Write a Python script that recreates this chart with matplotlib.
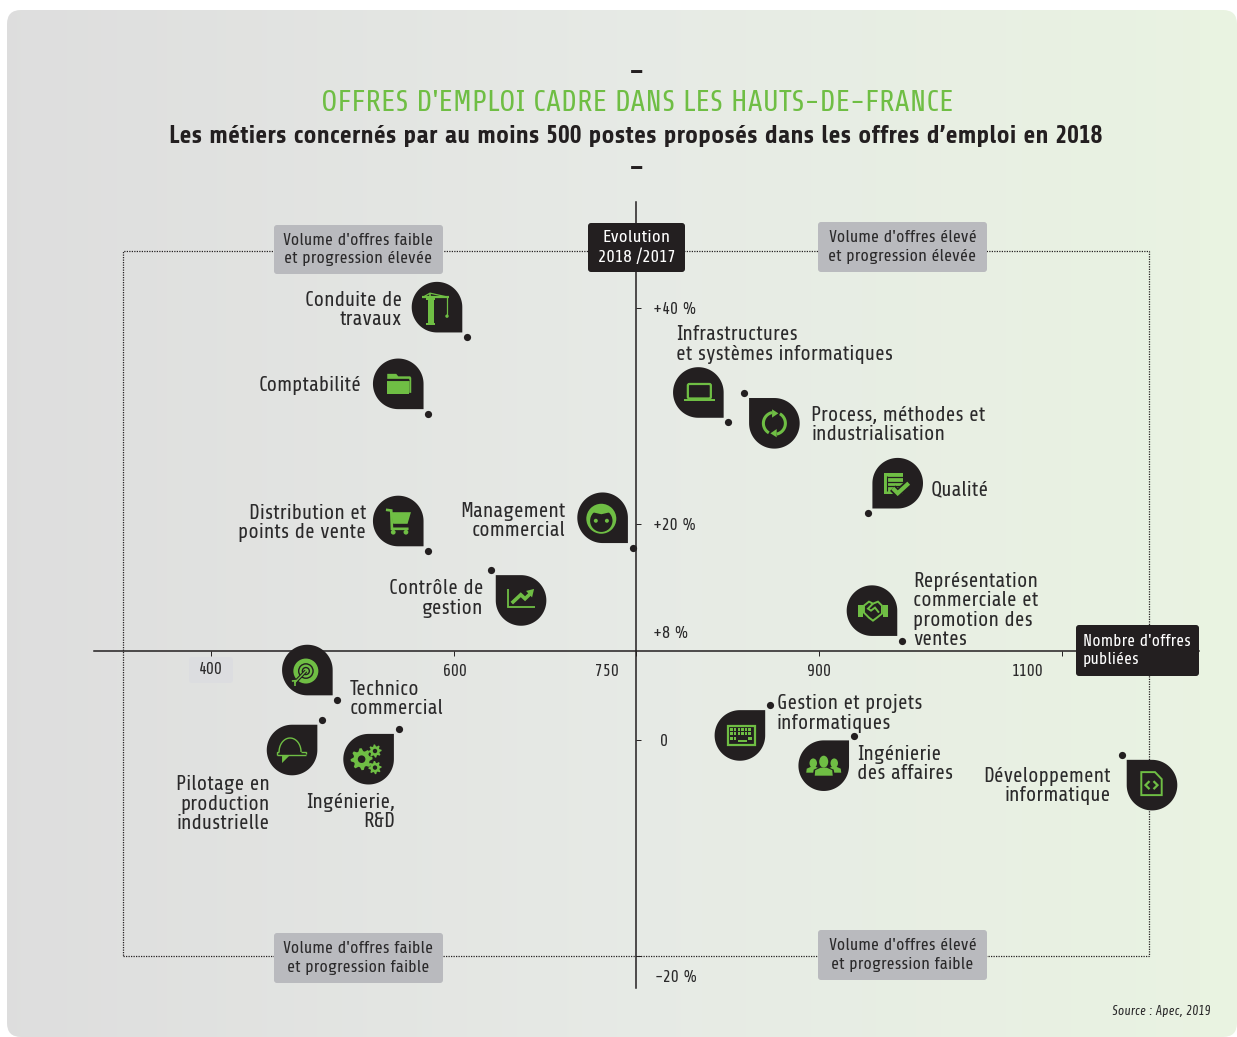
import numpy as np
import matplotlib
matplotlib.use('Agg')
import matplotlib.pyplot as plt
from matplotlib.patches import Polygon, Circle, Rectangle, Ellipse, FancyBboxPatch
from matplotlib.transforms import Affine2D, ScaledTranslation

plt.rcParams['font.family'] = ['Share', 'Liberation Sans', 'DejaVu Sans']

# data
metiers = ['Conduite de\ntravaux', 'Comptabilité', 'Infrastructures\net systèmes informatiques',
           'Process, méthodes et\nindustrialisation', 'Qualité', 'Distribution et\npoints de vente',
           'Management\ncommercial', 'Contrôle de\ngestion',
           'Représentation\ncommerciale et\npromotion des\nventes', 'Technico\ncommercial',
           'Pilotage en\nproduction\nindustrielle', 'Ingénierie,\nR&D', 'Gestion et projets\ninformatiques',
           'Ingénierie\ndes affaires', 'Développement\ninformatique']
offres = [610.7, 578.8, 825.8, 839, 940.5, 578.8, 747, 630.5, 968.7, 504, 491.4, 554.4, 860, 929, 1149.8]
evolution = [37.3, 30.2, 29.4, 32.1, 21.0, 17.5, 17.8, 15.7, 9.2, 3.7, 1.85, 1.0, 3.2, 0.4, -1.4]

x_ticks = [400, 600, 750, 900, 1100]
y_ticks = [40, 20, 0, -20]
y_tick_labels = ['+40 %', '+20 %', '0', '-20 %']

# where the drop sits compared to its point, label offset in px, label side
corners = ['br', 'br', 'br', 'tl', 'bl', 'br', 'br', 'tl', 'br', 'br', 'tr', 'tr', 'tr', 'tr', 'tl']
label_off = [(-65, 27), (-67, 28), (-52, 78), (67, -32), (63, 23), (-62, 28), (-67, 27), (-8, -28),
             (11, 30), (12.5, 1), (-52, -84), (-3.6, -83), (7, -8), (3, -28), (-11, -31)]
label_ha = ['right', 'right', 'left', 'left', 'left', 'right', 'right', 'right',
            'left', 'left', 'right', 'right', 'left', 'left', 'right']

W, H = 1237, 1037
DARK = '#231f20'
GREEN = '#6fbe44'
GREY = '#b9babe'
TXT = '#2b2a2b'
FS = 14.9

fig = plt.figure(figsize=(W / 100, H / 100), dpi=100, facecolor='white')

# background card with the grey to green gradient
bg = fig.add_axes([0, 0, 1, 1], zorder=0)
bg.axis('off')
stops = np.array([[0.87, 0.87, 0.87], [0.905, 0.918, 0.90], [0.915, 0.955, 0.885]])
grad = np.array([[np.interp(t, [0, 0.5, 1], stops[:, c]) for c in range(3)] for t in np.linspace(0, 1, 256)])
im = bg.imshow(grad[np.newaxis, :, :], extent=(7, W, H, 10), aspect='auto', interpolation='bilinear')
bg.set_xlim(0, W)
bg.set_ylim(H, 0)
card = FancyBboxPatch((21, 24), W - 35, H - 38, boxstyle='round,pad=14,rounding_size=14',
                      transform=bg.transData, fc='none', ec='none')
bg.add_patch(card)
im.set_clip_path(card)

# main axes fill the figure so data units map straight to the picture
ax = fig.add_axes([0, 0, 1, 1], zorder=1)
ax.patch.set_visible(False)
ax.set_xlim(400 - 211 / 1.215, 400 + (W - 211) / 1.215)
ax.set_ylim((740 - H) / 10.8, 740 / 10.8)
px = Affine2D().scale(1, -1).translate(0, H)

for s in ['top', 'right']:
    ax.spines[s].set_visible(False)
ax.spines['left'].set_position(('data', 750))
ax.spines['bottom'].set_position(('data', 8.2))
ax.spines['left'].set_bounds((740 - 988) / 10.8, (740 - 202) / 10.8)
ax.spines['bottom'].set_bounds(400 + (94 - 211) / 1.215, 400 + (1199 - 211) / 1.215)
ax.spines['left'].set_linewidth(1.1)
ax.spines['bottom'].set_linewidth(1.1)
ax.spines['left'].set_color(DARK)
ax.spines['bottom'].set_color(DARK)
ax.set_xticks(x_ticks)
ax.set_yticks(y_ticks)
ax.set_xticklabels([])
ax.set_yticklabels([])
ax.tick_params(axis='x', direction='out', length=3.6, width=0.7, color=DARK)
ax.tick_params(axis='y', direction='in', length=3.6, width=0.7, color=DARK)

# dotted frame of the four quadrants
ax.add_patch(Rectangle((400 + (123 - 211) / 1.215, -20), (1149 - 123) / 1.215, 65.3, fill=False,
                       ls=(0, (1, 1)), lw=0.9, ec=DARK, zorder=1))


def box(x0, y0, x1, y1, color, text, tc, ha='center', tx=None, fs=12.45):
    ax.add_patch(FancyBboxPatch((x0 + 3, y0 + 3), x1 - x0 - 6, y1 - y0 - 6, boxstyle='round,pad=3,rounding_size=3',
                                transform=px, fc=color, ec='none', zorder=3))
    if tx is None:
        tx = (x0 + x1) / 2
    ax.text(tx, (y0 + y1) / 2, text, transform=px, ha=ha, va='center', color=tc, fontsize=fs,
            linespacing=1.3, zorder=4)


box(274, 225, 443, 274, GREY, "Volume d'offres faible\net progression élevée", TXT)
box(818, 222, 987, 272, GREY, "Volume d'offres élevé\net progression élevée", TXT)
box(274, 933, 443, 983, GREY, "Volume d'offres faible\net progression faible", TXT)
box(818, 930, 987, 980, GREY, "Volume d'offres élevé\net progression faible", TXT)
box(588, 223, 685, 272, DARK, 'Evolution\n2018 /2017', 'white', fs=13)
box(1076, 625, 1199, 676, DARK, "Nombre d'offres\npubliées", 'white', ha='left', tx=1083, fs=12.2)
box(189, 657, 233, 683, '#dcdde0', '400', TXT, fs=12.2)

# tick labels sit beside the ticks, not under them
for lab, lx in zip(x_ticks[1:], [455, 607, 819, 1028]):
    ax.text(lx, 671, str(lab), transform=px, ha='center', va='center', fontsize=12.2, color=TXT)
for lab, lx, ly in zip(y_tick_labels, [653, 653, 660, 655], [309, 525, 741, 977]):
    ax.text(lx, ly, lab, transform=px, ha='left', va='center', fontsize=12.2, color=TXT)
ax.text(653, 633, '+8 %', transform=px, ha='left', va='center', fontsize=12.2, color=TXT)

# titles
ax.text(637, 73, '–', transform=px, ha='center', va='center', fontsize=20, fontweight='bold', color=DARK)
ax.text(637, 103, "OFFRES D'EMPLOI CADRE DANS LES HAUTS-DE-FRANCE", transform=px, ha='center', va='center',
        fontsize=21.8, color=GREEN)
ax.text(636, 136, "Les métiers concernés par au moins 500 postes proposés dans les offres d’emploi en 2018",
        transform=px, ha='center', va='center', fontsize=17.9, fontweight='bold', color=DARK)
ax.text(637, 169, '–', transform=px, ha='center', va='center', fontsize=20, fontweight='bold', color=DARK)
ax.text(1210, 1011, 'Source : Apec, 2019', transform=px, ha='right', va='center', fontsize=9.4,
        style='italic', color=TXT)


def drop(t, corner):
    r = 25.3
    th = np.radians(np.linspace(0, 270, 80))
    pts = np.column_stack([r * np.cos(th), r * np.sin(th)])
    pts = np.vstack([pts, [r, -r]])
    ang = {'br': 0, 'tr': 90, 'tl': 180, 'bl': 270}[corner]
    rot = Affine2D().rotate_deg(ang)
    ax.add_patch(Polygon(rot.transform(pts), closed=True, fc=DARK, ec='none', transform=t, zorder=5))


# small helpers for the icons, in px around the centre of the drop
def poly(t, pts, fc=GREEN, z=6, ec='none', lw=0, closed=True):
    ax.add_patch(Polygon(pts, closed=closed, fc=fc, ec=ec, lw=lw, transform=t, zorder=z))


def line(t, xs, ys, lw=1.5, c=GREEN, z=6):
    ax.plot(xs, ys, color=c, lw=lw, transform=t, zorder=z, solid_capstyle='butt', solid_joinstyle='miter')


def rect(t, x, y, w, h, fc=GREEN, z=6):
    ax.add_patch(Rectangle((x, y), w, h, fc=fc, ec='none', transform=t, zorder=z))


def circ(t, x, y, r, fc=GREEN, z=6):
    ax.add_patch(Circle((x, y), r, fc=fc, ec='none', transform=t, zorder=z))


def crane(t):
    rect(t, -9.5, -16.5, 6, 24)
    rect(t, -11, -18, 9, 2)
    rect(t, -11, 7, 9, 2)
    line(t, [-15, 12], [10, 10], 1.6)
    line(t, [-14, -7, 11], [10, 14, 10], 0.9)
    line(t, [-7, -7], [14, 9], 1.2)
    line(t, [10, 10], [10, -8], 0.9)
    circ(t, 10, -9, 1.7)


def folder(t):
    poly(t, [(-11, 5), (-11, 10), (-2, 10), (0, 7.5), (12, 7.5), (13, 6), (13, -9), (11, -9), (11, 5)])
    rect(t, -11, -10.5, 21.5, 13.5)
    line(t, [-11, 11], [3.6, 3.6], 0.8, DARK, 7)


def laptop(t):
    ax.add_patch(FancyBboxPatch((-10.5, -6), 23, 14.5, boxstyle='round,pad=0,rounding_size=1.5', fc='none',
                                ec=GREEN, lw=1.6, transform=t, zorder=6))
    rect(t, -14, -9, 31, 2)


def refresh(t):
    r = 11
    a = np.radians(np.linspace(102, 240, 30))
    line(t, r * np.cos(a), r * np.sin(a), 2.2)
    poly(t, [(-2.3, 14), (4, 10), (-2.3, 5.7)])
    line(t, -r * np.cos(a), -r * np.sin(a), 2.2)
    poly(t, [(2.3, -14), (-4, -10), (2.3, -5.7)])


def qualite(t):
    rect(t, -13.7, -11, 18.7, 21)
    for yy in [6, 1.5, -3]:
        line(t, [-10.5, 5], [yy, yy], 0.9, DARK, 7)
    line(t, [-10.5, -10.5], [7, -8], 0.8, DARK, 7)
    line(t, [-5, 0, 11], [-5, -10, 0], 5.5, DARK, 7)
    line(t, [-5, 0, 11], [-5, -10, 0], 3, GREEN, 8)


def cart(t):
    line(t, [-12.3, -7, -6.3, 10.3], [11.2, 10.5, -7.8, -7.8], 1.9)
    poly(t, [(-7.3, 8.8), (12.7, 8.8), (9.3, -2.8), (-5, -2.8)])
    circ(t, -5, -11.2, 2.4)
    circ(t, 7.7, -11.2, 2.4)


def face(t):
    circ(t, -1.3, -1, 15)
    circ(t, -1.3, -3, 11.2, DARK, 7)
    poly(t, [(-12, 6), (-1.3, 3.5), (9.5, 6), (0, 13)], z=8)
    circ(t, -6.8, -3, 2, z=8)
    circ(t, 4.3, -3, 2, z=8)


def courbe(t):
    line(t, [-13.3, -13.3, 14], [11.7, -6.3, -6.3], 1.3)
    line(t, [-9.3, -0.3, 4, 9], [-2.7, 5.7, 1.7, 6.5], 2.6)
    poly(t, [(5, 9.5), (13, 11.5), (11, 3)])


def poignee(t):
    rect(t, -14, -6, 5, 12)
    rect(t, 11, -6, 5, 12)
    xs = [-8, -3, 1, 6, 10, 10, 5, 1, -3, -8, -8]
    ys = [5, 9, 7, 9, 5, -3, -7, -10, -7, -2, 5]
    ax.add_patch(Polygon(np.column_stack([xs, ys]), closed=True, fc='none', ec=GREEN, lw=1.4, transform=t, zorder=6))
    line(t, [1, -4, -1, 3, 7], [7, 2, 0, 3, -2], 1.4)


def cible(t):
    circ(t, -1.5, -1, 12.5)
    ax.add_patch(Circle((-1.5, -1), 7.2, fc='none', ec=DARK, lw=1, transform=t, zorder=7))
    ax.add_patch(Circle((-1.5, -1), 3.5, fc='none', ec=DARK, lw=1, transform=t, zorder=7))
    line(t, [-1.5, -13], [-1, -13], 2.6, DARK, 7)
    line(t, [-1.5, -13], [-1, -13], 1, GREEN, 8)
    line(t, [-15.5, -10.5], [-11, -10.5], 1.2, GREEN, 8)
    line(t, [-12, -12], [-9.5, -15.5], 1.2, GREEN, 8)


def casque(t):
    th = np.radians(np.linspace(0, 180, 40))
    line(t, -2 + 11 * np.cos(th), -2 + 14 * np.sin(th), 1)
    line(t, [9, 14, 14], [-2, -2, -4], 1)
    line(t, [-15.5, 14], [-5, -5], 1)
    line(t, [-15.5, -15.5, -13], [-5, -2, -2], 1)
    poly(t, [(-10, -13), (-3, -6), (-10, -6)])


def gear(t, cx, cy, ro, ri, hole, teeth):
    a = np.linspace(0, 2 * np.pi, teeth * 4, endpoint=False)
    rad = np.tile([ro, ro, ri, ri], teeth)
    poly(t, np.column_stack([cx + rad * np.cos(a), cy + rad * np.sin(a)]))
    circ(t, cx, cy, hole, DARK, 7)


def engrenages(t):
    gear(t, -7, 0, 11, 8.2, 3.8, 8)
    gear(t, 6.4, 8.2, 6.6, 4.8, 2.2, 8)
    gear(t, 6.4, -8.4, 6.6, 4.8, 2.2, 8)


def clavier(t):
    ax.add_patch(Rectangle((-12.4, -9.6), 27.6, 19.2, fc='none', ec=GREEN, lw=1.6, transform=t, zorder=6))
    for yy in [4.5, 0.5]:
        for xx in np.arange(-9.5, 12, 3.6):
            rect(t, xx, yy, 2.3, 2.8)
    for xx in [-9.5, -5.9]:
        rect(t, xx, -4.5, 2.3, 3)
    rect(t, -2, -7, 9, 2.6)
    rect(t, 8.5, -4.5, 4, 3)


def equipe(t):
    for xx in [-10.5, 10.5]:
        ax.add_patch(Ellipse((xx, 2.5), 7.5, 9.5, fc=GREEN, ec='none', transform=t, zorder=6))
        poly(t, [(xx - 7, -7), (xx - 6.5, -3), (xx - 2, -1), (xx + 2, -1), (xx + 6.5, -3), (xx + 7, -7)])
    poly(t, [(-11, -10), (-10, -4), (-3.5, -1), (3.5, -1), (10, -4), (11, -10)], fc=DARK, z=7)
    ax.add_patch(Ellipse((0, 4), 9, 12, fc=GREEN, ec='none', transform=t, zorder=8))
    poly(t, [(-9, -10), (-8.5, -4.5), (-3, -2), (3, -2), (8.5, -4.5), (9, -10)], z=8)


def code(t):
    ax.add_patch(Polygon([(-10.7, 13), (3, 13), (9.7, 6), (9.7, -10), (-10.7, -10)], closed=True, fc='none',
                         ec=GREEN, lw=1.4, transform=t, zorder=6))
    line(t, [-2.5, -6.5, -2.5], [4, 0, -4], 1.6)
    line(t, [1.5, 5.5, 1.5], [4, 0, -4], 1.6)


icons = [crane, folder, laptop, refresh, qualite, cart, face, courbe, poignee, cible, casque, engrenages,
         clavier, equipe, code]

for i, nom in enumerate(metiers):
    x, y = offres[i], evolution[i]
    sx = -30 if 'r' in corners[i] else 30
    sy = 30 if 'b' in corners[i] else -30
    t = Affine2D().translate(sx, sy) + ScaledTranslation(x, y, ax.transData)
    drop(t, corners[i])
    icons[i](t)
    ax.plot([x], [y], 'o', color=DARK, ms=5.2, mew=0, zorder=6, clip_on=False)
    ax.annotate(nom, xy=(x, y), xytext=label_off[i], textcoords='offset pixels', ha=label_ha[i], va='center',
                fontsize=FS, color=TXT, linespacing=1.02, zorder=6)

ax.set_xlim(400 - 211 / 1.215, 400 + (W - 211) / 1.215)
ax.set_ylim((740 - H) / 10.8, 740 / 10.8)
plt.savefig('out.png', dpi=100)
